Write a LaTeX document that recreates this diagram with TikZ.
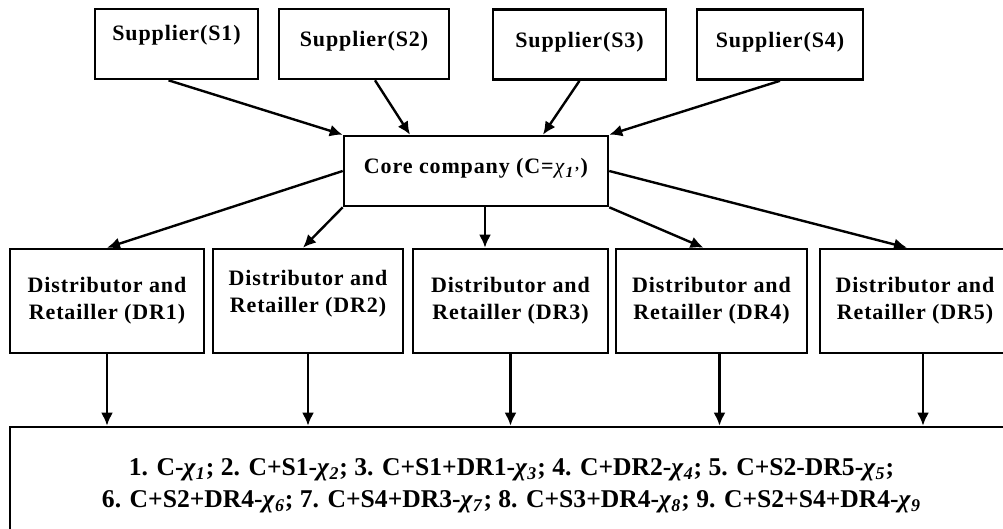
\documentclass[tikz,border=0pt]{standalone}
\usepackage{fontspec}
\setmainfont{Liberation Serif}
\newfontfamily\boxfont[LetterSpace=4]{Liberation Serif}
\usetikzlibrary{arrows.meta}

% bold italic chi with an index
\newcommand{\chix}[1]{\textit{χ}\textsubscript{\textit{#1}}}

\tikzset{
  box/.style={draw, line width=1.3pt, inner sep=0pt,
              font=\boxfont\bfseries\fontsize{11}{13.5}\selectfont},
  supbox/.style={box, minimum height=35pt, text height=7pt, text depth=4pt},
  drbox/.style={box, minimum height=52pt, align=center},
  flow/.style={line width=1.2pt, -{Latex[length=6.5pt, width=6pt]}},
}

\begin{document}
\begin{tikzpicture}[x=0.5pt, y=-0.5pt]
  \useasboundingbox (0,0) rectangle (1003,529);
  \clip (0,0) rectangle (1003,529);

  % Suppliers
  \node[supbox, minimum width=81.5pt, text depth=10.5pt] (s1) at (176.5,44) {Supplier(S1)};
  \node[supbox, minimum width=85pt]   (s2) at (364,44)    {Supplier(S2)};
  \node[supbox, minimum width=86.5pt] (s3) at (579.5,44.5) {Supplier(S3)};
  \node[supbox, minimum width=83pt]   (s4) at (780,44.5)  {Supplier(S4)};

  % Core company
  \node[supbox, minimum width=132pt] (core) at (476,171)
    {Core company (C=\textmd{\textit{χ}}\textsubscript{\textit{1’}})};

  % Distributors and retailers
  \node[drbox, minimum width=97pt]   (dr1) at (107,301)   {Distributor and\\Retailler (DR1)};
  \node[drbox, minimum width=95pt, text depth=10pt]
                                     (dr2) at (308,301)   {Distributor and\\Retailler (DR2)};
  \node[drbox, minimum width=97.5pt] (dr3) at (510.5,301) {Distributor and\\Retailler (DR3)};
  \node[drbox, minimum width=95.5pt] (dr4) at (711.5,301) {Distributor and\\Retailler (DR4)};
  \node[drbox, minimum width=95pt]   (dr5) at (915,301)   {Distributor and\\Retailler (DR5)};

  % Alliance combinations
  \node[draw, line width=1.3pt, inner sep=0pt, minimum width=501.5pt,
        minimum height=59pt, align=center,
        font=\bfseries\fontsize{12.8}{16}\selectfont] (out) at (511.5,486) {%
    1. C-\chix{1}; 2. C+S1-\chix{2}; 3. C+S1+DR1-\chix{3}; 4. C+DR2-\chix{4}; 5. C+S2-DR5-\chix{5};\\
    6. C+S2+DR4-\chix{6}; 7. C+S4+DR3-\chix{7}; 8. C+S3+DR4-\chix{8}; 9. C+S2+S4+DR4-\chix{9}};

  % suppliers -> core
  \draw[flow] ([xshift=-4pt]s1.south) -- (core.north west);
  \draw[flow] ([xshift=5.5pt]s2.south) -- ([xshift=-33pt]core.north);
  \draw[flow] (s3.south) -- ([xshift=33.5pt]core.north);
  \draw[flow] (s4.south) -- (core.north east);

  % core -> distributors
  \draw[flow] (core.west) -- (dr1.north);
  \draw[flow] (core.south west) -- ([xshift=-2.5pt]dr2.north);
  \draw[flow] ([xshift=4.5pt]core.south) -- ([xshift=4.5pt]core.south |- dr3.north);
  \draw[flow] (core.south east) -- ([xshift=-4pt]dr4.north);
  \draw[flow] (core.east) -- ([xshift=-4pt]dr5.north);

  % distributors -> combinations
  \draw[flow] (dr1.south) -- (dr1.south |- out.north);
  \draw[flow] (dr2.south) -- (dr2.south |- out.north);
  \draw[flow] (dr3.south) -- (dr3.south |- out.north);
  \draw[flow] ([xshift=4pt]dr4.south) -- ([xshift=4pt]dr4.south |- out.north);
  \draw[flow] ([xshift=4pt]dr5.south) -- ([xshift=4pt]dr5.south |- out.north);
\end{tikzpicture}
\end{document}
